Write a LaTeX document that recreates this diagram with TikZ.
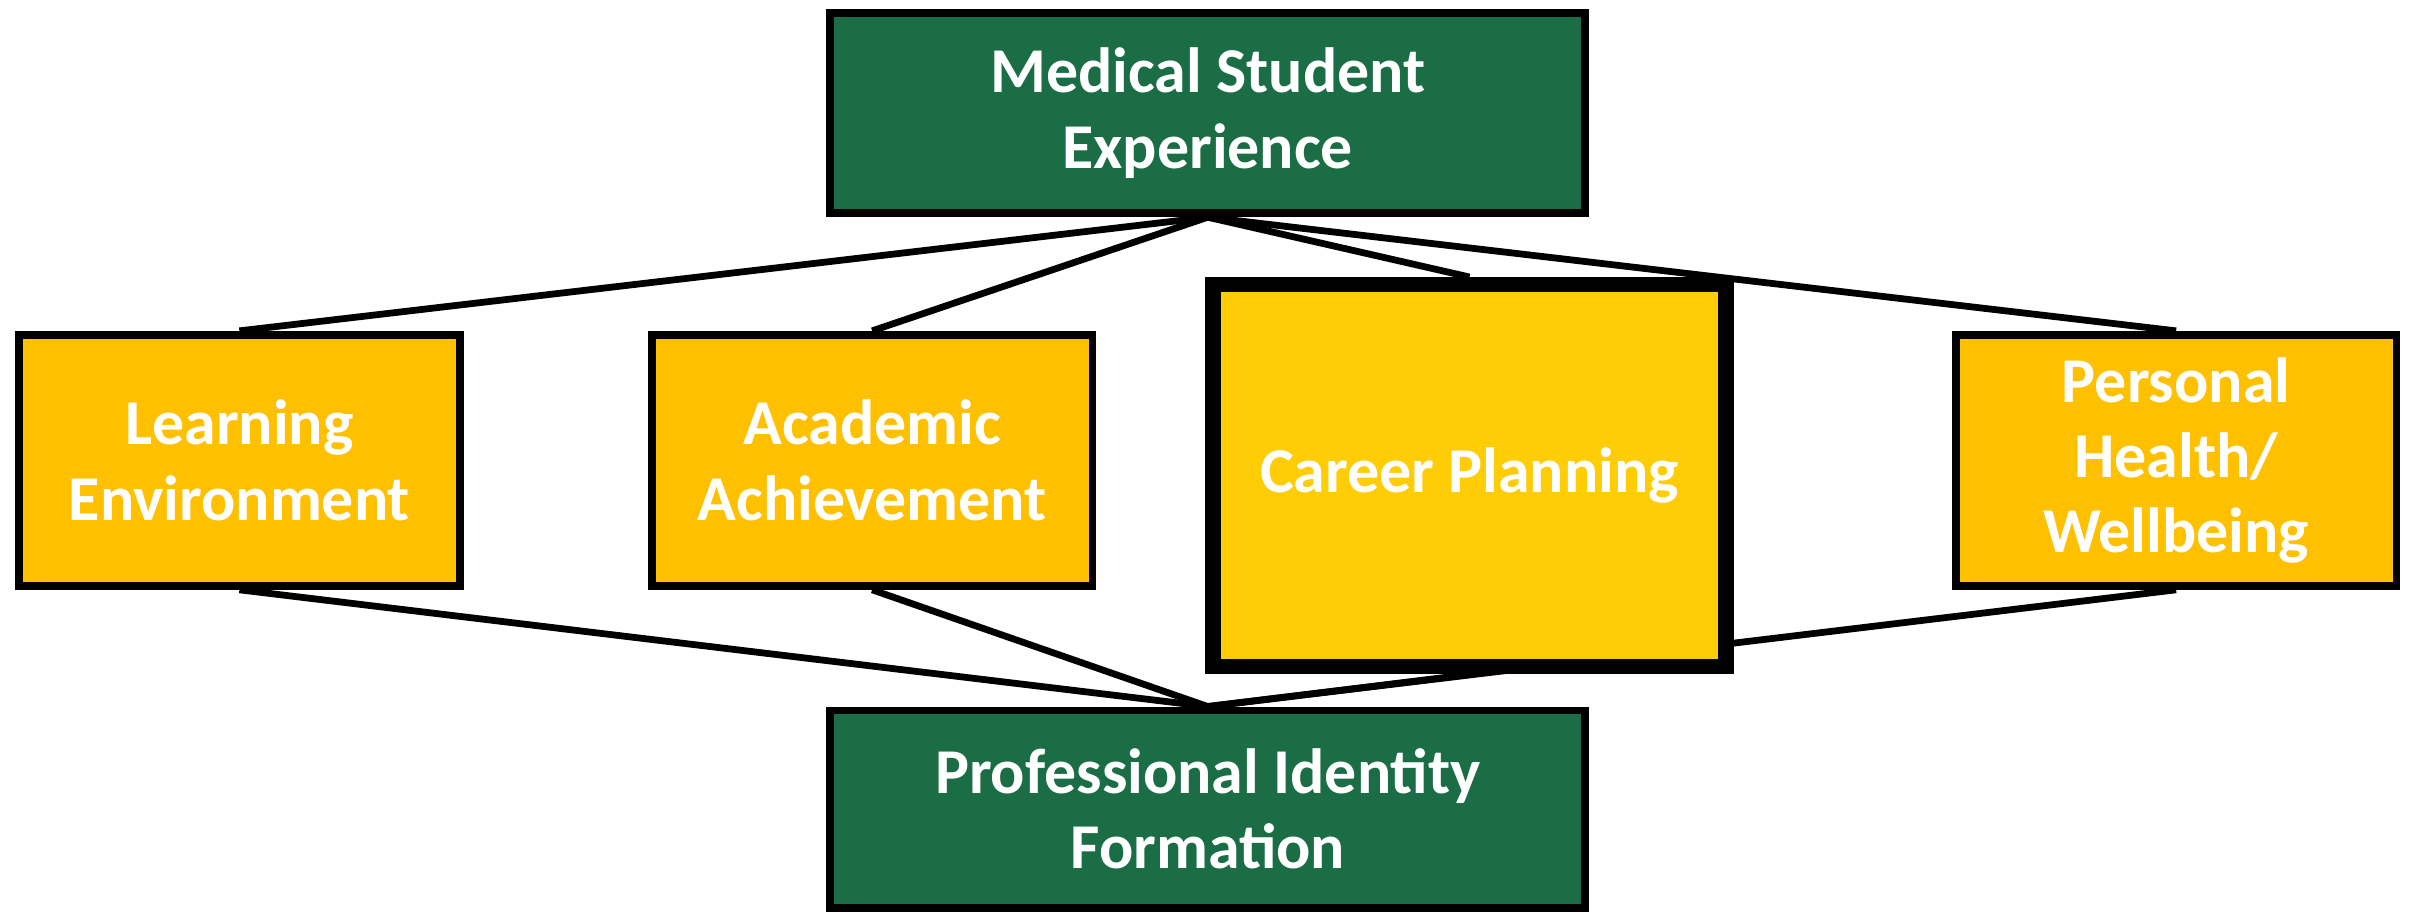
\documentclass[tikz,border=0pt]{standalone}
\usepackage{fontspec}
\setmainfont{Carlito}
\usetikzlibrary{backgrounds}
\definecolor{dgreen}{RGB}{27,109,69}
\definecolor{gold}{RGB}{255,192,0}
\definecolor{cpgold}{RGB}{255,205,6}
\begin{document}
\begin{tikzpicture}[x=0.01cm,y=-0.01cm,
  lbl/.style={text=white,font=\fontsize{11.8}{13.9}\selectfont\bfseries,align=center,inner sep=0pt},
  greenbox/.style={lbl,draw=black,line width=1.45pt,fill=dgreen,minimum width=4.90cm},
  goldbox/.style={lbl,draw=black,line width=1.45pt,fill=gold,minimum width=2.86cm,minimum height=1.63cm},
  cpbox/.style={lbl,draw=black,line width=2.85pt,fill=cpgold,minimum width=3.33cm,minimum height=2.48cm},
  link/.style={draw=black,line width=1.25pt}]
\useasboundingbox (0,0) rectangle (1568,593);
\node[greenbox,minimum height=1.30cm] (mse) at (784.5,73.5) {Medical Student\\Experience};
\node[greenbox,minimum height=1.28cm] (pif) at (784.5,525.5) {Professional Identity\\Formation};
\node[goldbox] (le) at (155.5,299) {Learning\\Environment};
\node[goldbox] (aa) at (566.5,299) {Academic\\Achievement};
\node[goldbox] (ph) at (1413.5,299) {Personal\\Health/\\Wellbeing};
\node[cpbox] (cp) at (954.5,309) {Career Planning};
\begin{pgfonlayer}{background}
\draw[link] (mse.south) -- (le.north);
\draw[link] (mse.south) -- (aa.north);
\draw[link] (mse.south) -- (cp.north);
\draw[link] (mse.south) -- (ph.north);
\draw[link] (le.south) -- (pif.north);
\draw[link] (aa.south) -- (pif.north);
\draw[link] (cp.south) -- (pif.north);
\draw[link] (ph.south) -- (pif.north);
\end{pgfonlayer}
\end{tikzpicture}
\end{document}
